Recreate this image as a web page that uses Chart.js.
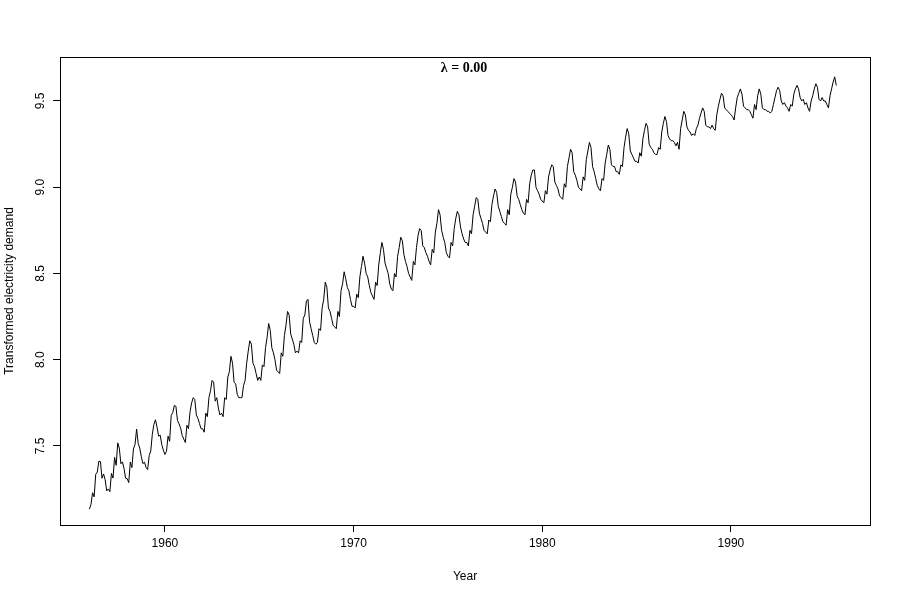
<!DOCTYPE html>
<html>
<head>
<meta charset="utf-8">
<script src="https://cdn.jsdelivr.net/npm/chart.js@4"></script>
<style>
  html, body { margin: 0; padding: 0; background: #fff; }
  #wrap { width: 900px; height: 600px; }
</style>
</head>
<body>
<div id="wrap"><canvas id="elecChart" width="900" height="600"></canvas></div>
<script>
// 월별 전력 수요 (로그 변환), 1956년 1월부터
const startYear = 1956;
const demand1950s = [
  7.134, 7.162, 7.229, 7.205, 7.336, 7.349, 7.412, 7.409, 7.313, 7.338, 7.304, 7.240,
  7.251, 7.235, 7.341, 7.314, 7.434, 7.388, 7.518, 7.488, 7.397, 7.408, 7.369, 7.313,
  7.311, 7.288, 7.407, 7.375, 7.483, 7.509, 7.598, 7.515, 7.488, 7.438, 7.398, 7.406,
  7.376, 7.363, 7.444, 7.471, 7.568, 7.626, 7.652, 7.609, 7.557, 7.563, 7.509, 7.476
];
const demand1960s = [
  7.451, 7.469, 7.557, 7.527, 7.677, 7.694, 7.735, 7.730, 7.648, 7.628, 7.603, 7.562,
  7.54, 7.52, 7.62, 7.60, 7.70, 7.75, 7.78, 7.77, 7.68, 7.66, 7.63, 7.60,
  7.60, 7.58, 7.69, 7.67, 7.78, 7.82, 7.88, 7.87, 7.76, 7.78, 7.72, 7.68,
  7.69, 7.67, 7.78, 7.77, 7.90, 7.93, 8.02, 7.98, 7.87, 7.86, 7.80, 7.78,
  7.78, 7.78, 7.85, 7.88, 7.98, 8.05, 8.11, 8.09, 7.98, 7.96, 7.92, 7.88,
  7.90, 7.88, 7.97, 7.96, 8.07, 8.13, 8.21, 8.17, 8.07, 8.04, 8.00, 7.94,
  7.93, 7.92, 8.04, 8.02, 8.14, 8.20, 8.28, 8.26, 8.15, 8.12, 8.09, 8.04,
  8.05, 8.04, 8.11, 8.10, 8.24, 8.26, 8.34, 8.35, 8.22, 8.18, 8.14, 8.10,
  8.09, 8.10, 8.18, 8.17, 8.30, 8.35, 8.45, 8.42, 8.30, 8.28, 8.24, 8.20,
  8.19, 8.18, 8.28, 8.25, 8.40, 8.44, 8.51, 8.47, 8.42, 8.40, 8.35, 8.31
];
const demand1970s = [
  8.31, 8.30, 8.38, 8.36, 8.48, 8.54, 8.60, 8.56, 8.50, 8.48, 8.43, 8.39,
  8.37, 8.35, 8.45, 8.43, 8.55, 8.62, 8.68, 8.64, 8.56, 8.53, 8.50, 8.44,
  8.41, 8.40, 8.50, 8.48, 8.60, 8.65, 8.71, 8.69, 8.61, 8.57, 8.54, 8.50,
  8.48, 8.46, 8.57, 8.55, 8.65, 8.72, 8.76, 8.75, 8.66, 8.65, 8.62, 8.60,
  8.57, 8.55, 8.64, 8.62, 8.74, 8.79, 8.87, 8.84, 8.75, 8.71, 8.68, 8.62,
  8.60, 8.59, 8.68, 8.66, 8.76, 8.82, 8.86, 8.84, 8.77, 8.73, 8.70, 8.68,
  8.68, 8.66, 8.75, 8.73, 8.84, 8.89, 8.94, 8.93, 8.85, 8.82, 8.79, 8.75,
  8.74, 8.73, 8.81, 8.80, 8.90, 8.95, 8.99, 8.97, 8.89, 8.86, 8.83, 8.80,
  8.79, 8.78, 8.87, 8.84, 8.96, 9.00, 9.05, 9.03, 8.95, 8.93, 8.90, 8.87,
  8.85, 8.84, 8.93, 8.91, 9.02, 9.07, 9.10, 9.10, 9.00, 8.98, 8.96, 8.93
];
const demand1980s = [
  8.92, 8.91, 8.98, 8.96, 9.06, 9.10, 9.13, 9.12, 9.03, 9.01, 8.99, 8.95,
  8.94, 8.93, 9.02, 9.00, 9.12, 9.17, 9.22, 9.20, 9.09, 9.07, 9.04, 9.00,
  8.99, 8.98, 9.06, 9.04, 9.16, 9.21, 9.26, 9.23, 9.12, 9.09, 9.05, 9.01,
  8.99, 8.98, 9.05, 9.04, 9.14, 9.19, 9.245, 9.22, 9.13, 9.12, 9.12, 9.09,
  9.09, 9.075, 9.13, 9.12, 9.23, 9.29, 9.34, 9.31, 9.21, 9.19, 9.17, 9.15,
  9.15, 9.14, 9.20, 9.18, 9.28, 9.33, 9.37, 9.35, 9.25, 9.23, 9.22, 9.20,
  9.19, 9.19, 9.23, 9.22, 9.32, 9.37, 9.41, 9.38, 9.30, 9.28, 9.27, 9.27,
  9.26, 9.24, 9.26, 9.22, 9.34, 9.39, 9.44, 9.42, 9.35, 9.33, 9.32, 9.30,
  9.31, 9.30, 9.34, 9.36, 9.40, 9.43, 9.46, 9.44, 9.36, 9.35, 9.35, 9.34,
  9.36, 9.34, 9.33, 9.42, 9.47, 9.51, 9.545, 9.53, 9.46, 9.45, 9.44, 9.43
];
const demand1990s = [
  9.42, 9.41, 9.39, 9.46, 9.52, 9.545, 9.57, 9.54, 9.47, 9.46, 9.45, 9.45,
  9.44, 9.42, 9.40, 9.48, 9.45, 9.53, 9.57, 9.54, 9.46, 9.45, 9.45, 9.44,
  9.44, 9.43, 9.44, 9.48, 9.52, 9.56, 9.58, 9.56, 9.50, 9.48, 9.49, 9.47,
  9.46, 9.44, 9.48, 9.47, 9.54, 9.57, 9.59, 9.57, 9.52, 9.50, 9.51, 9.48,
  9.49, 9.46, 9.44, 9.50, 9.53, 9.57, 9.60, 9.58, 9.51, 9.50, 9.52, 9.50,
  9.50, 9.48, 9.46, 9.53, 9.57, 9.61, 9.64, 9.59
];
const xTicks = [1960, 1970, 1980, 1990];
const yTicks = [7.5, 8.0, 8.5, 9.0, 9.5];
const yTickLabels = ['7.5', '8.0', '8.5', '9.0', '9.5'];

const demand = [].concat(demand1950s, demand1960s, demand1970s, demand1980s, demand1990s);
const points = demand.map((v, i) => ({ x: startYear + i / 12, y: v }));

// R 스타일 박스, y축 라벨, 제목
const rStylePlugin = {
  id: 'rStyle',
  afterDraw(chart) {
    const ctx = chart.ctx;
    const area = chart.chartArea;
    const yScale = chart.scales.y;
    ctx.save();
    ctx.strokeStyle = '#000';
    ctx.lineWidth = 1;
    ctx.strokeRect(area.left + 0.5, area.top + 0.5, area.right - area.left, area.bottom - area.top);

    ctx.fillStyle = '#000';
    ctx.font = '12px "Liberation Sans", Arial, sans-serif';
    ctx.textAlign = 'center';
    ctx.textBaseline = 'middle';
    yTicks.forEach((v, i) => {
      const py = yScale.getPixelForValue(v);
      ctx.save();
      ctx.translate(41, py);
      ctx.rotate(-Math.PI / 2);
      ctx.fillText(yTickLabels[i], 0, 0);
      ctx.restore();
    });

    ctx.save();
    ctx.translate(10, (area.top + area.bottom) / 2);
    ctx.rotate(-Math.PI / 2);
    ctx.fillText('Transformed electricity demand', 0, 0);
    ctx.restore();

    ctx.fillText('Year', (area.left + area.right) / 2, 577);

    ctx.font = 'bold 14px "Liberation Serif", "Times New Roman", serif';
    ctx.fillText('λ = 0.00', (area.left + area.right) / 2 - 1, 68);
    ctx.restore();
  }
};

new Chart(document.getElementById('elecChart').getContext('2d'), {
  type: 'line',
  data: {
    datasets: [{
      data: points,
      borderColor: '#000',
      borderWidth: 1,
      pointRadius: 0,
      tension: 0,
      fill: false
    }]
  },
  options: {
    responsive: false,
    animation: false,
    layout: { padding: { left: 0, top: 57, right: 30, bottom: 0 } },
    plugins: { legend: { display: false }, tooltip: { enabled: false } },
    scales: {
      x: {
        type: 'linear',
        min: 1954.44,
        max: 1997.37,
        afterBuildTicks: scale => { scale.ticks = xTicks.map(v => ({ value: v })); },
        afterFit: scale => { scale.height = 75; },
        grid: { drawOnChartArea: false, color: '#000', tickLength: 7, lineWidth: 1 },
        border: { display: false },
        ticks: {
          color: '#000',
          font: { size: 12, family: '"Liberation Sans", Arial, sans-serif' },
          padding: 4,
          maxRotation: 0,
          callback: v => String(v)
        }
      },
      y: {
        type: 'linear',
        min: 7.042,
        max: 9.755,
        afterBuildTicks: scale => { scale.ticks = yTicks.map(v => ({ value: v })); },
        afterFit: scale => { scale.width = 60; },
        grid: { drawOnChartArea: false, color: '#000', tickLength: 7, lineWidth: 1 },
        border: { display: false },
        ticks: { display: false }
      }
    }
  },
  plugins: [rStylePlugin]
});
</script>
</body>
</html>
